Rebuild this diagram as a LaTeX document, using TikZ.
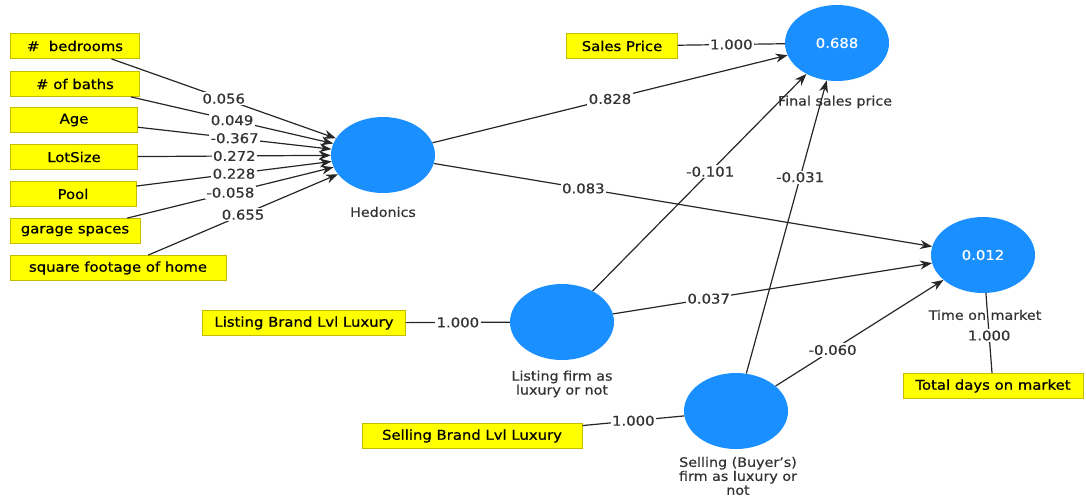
\documentclass[tikz,border=0pt]{standalone}
\usepackage{fontspec}
\setmainfont{DejaVu Sans}[FakeStretch=1.1,FakeBold=0.6]
\usetikzlibrary{shapes.geometric,arrows.meta}
\definecolor{lvblue}{HTML}{1A8FFF}
\definecolor{boxyellow}{HTML}{FFFF00}
\definecolor{boxedge}{HTML}{C4BC00}
\definecolor{numgray}{HTML}{333333}
\begin{document}
\begin{tikzpicture}[x=1pt,y=-1pt,
  ind/.style={draw=boxedge,fill=boxyellow,line width=0.8pt,minimum height=25pt,inner sep=0pt,font=\fontsize{13.5}{15}\selectfont},
  lv/.style={ellipse,fill=lvblue,minimum width=104pt,minimum height=76pt,inner sep=0pt,text=white,font=\fontsize{13.5}{15}\selectfont},
  lvlab/.style={text=numgray,align=center,font=\fontsize{13}{14}\selectfont},
  conn/.style={line width=1.2pt,draw=black!85},
  arr/.style={conn,-{Stealth[length=12pt,width=9pt]}},
  coef/.style={fill=white,text=numgray,inner sep=1.5pt,font=\fontsize{13.5}{15}\selectfont}
]
\useasboundingbox (0,0) rectangle (1086,499);

% latent variables
\node[lv] (hed) at (383,155) {};
\node[lv] (fsp) at (837,43) {0.688};
\node[lv] (tom) at (983,255) {0.012};
\node[lv] (lst) at (562,322) {};
\node[lv] (sel) at (736,411) {};

% latent variable names
\node[lvlab] (hedlab) at (383,212) {Hedonics};
\node[lvlab] (fsplab) at (835,102) {Final sales price};
\node[lvlab] (tomlab) at (985,315) {Time on market};
\node[lvlab] (lstlab) at (562,384) {Listing firm as\\luxury or not};
\node[lvlab] (sellab) at (738,476) {Selling (Buyer's)\\firm as luxury or\\not};

% indicators
\node[ind,minimum width=129pt] (bed) at (75,46) {\#\ \ bedrooms};
\node[ind,minimum width=129pt] (bath) at (75,84) {\# of baths};
\node[ind,minimum width=127pt] (age) at (74,120) {Age};
\node[ind,minimum width=127pt] (lot) at (74,157) {LotSize};
\node[ind,minimum width=126pt] (pool) at (73,194) {Pool};
\node[ind,minimum width=130pt] (gar) at (75,231) {garage spaces};
\node[ind,minimum width=216pt] (sqft) at (118,268) {square footage of home};
\node[ind,minimum width=111pt] (sp) at (622,46) {Sales Price};
\node[ind,minimum width=203pt] (lbl) at (304,323) {Listing Brand Lvl Luxury};
\node[ind,minimum width=220pt] (sbl) at (472,436) {Selling Brand Lvl Luxury};
\node[ind,minimum width=180pt] (tdm) at (993,386) {Total days on market};

% formative indicators to Hedonics
\draw[arr] (bed) -- node[coef] {0.056} (hed);
\draw[arr] (bath) -- node[coef] {0.049} (hed);
\draw[arr] (age) -- node[coef] {-0.367} (hed);
\draw[arr] (lot) -- node[coef] {0.272} (hed);
\draw[arr] (pool) -- node[coef] {0.228} (hed);
\draw[arr] (gar) -- node[coef] {-0.058} (hed);
\draw[arr] (sqft) -- node[coef] {0.655} (hed);

% structural paths
\draw[arr] (hed) -- node[coef] {0.828} (fsp);
\draw[arr] (hed) -- node[coef,pos=0.3] {0.083} (tom);
\draw[arr] (lst) -- node[coef,pos=0.55] {-0.101} (fsp);
\draw[arr] (sel) -- node[coef,pos=0.67] {-0.031} (fsp);
\draw[arr] (lst) -- node[coef,pos=0.3] {0.037} (tom);
\draw[arr] (sel) -- node[coef,pos=0.34] {-0.060} (tom);

% single indicators
\draw[conn] (sp) -- node[coef] {1.000} (fsp);
\draw[conn] (tom) -- node[coef,pos=0.53] {1.000} (tdm);
\draw[conn] (lbl) -- node[coef] {1.000} (lst);
\draw[conn] (sbl) -- node[coef] {1.000} (sel);
\end{tikzpicture}
\end{document}
